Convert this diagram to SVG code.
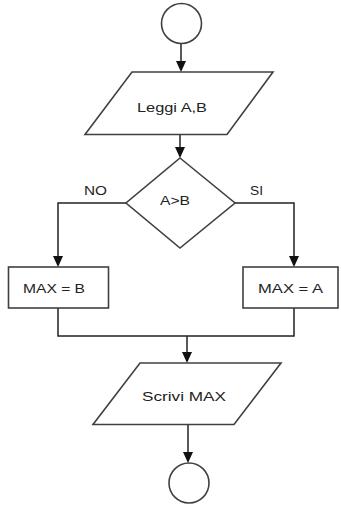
<svg xmlns="http://www.w3.org/2000/svg" width="341" height="508" viewBox="0 0 341 508">
<defs>
<marker id="arr" markerUnits="userSpaceOnUse" markerWidth="10" markerHeight="11" viewBox="0 0 10 11" refX="5" refY="11" orient="auto-start-reverse">
<path d="M0,0 L10,0 L5,11 Z" fill="#111"/>
</marker>
<style>
.shape{fill:#fff;stroke:#404040;stroke-width:1.6}
.line{fill:none;stroke:#222;stroke-width:1.5}
.arrow{fill:none;stroke:#222;stroke-width:1.5}
.t{font-family:"Liberation Sans",Arial,sans-serif;font-size:12.5px;fill:#222;text-anchor:start}
</style>
</defs>
<rect width="341" height="508" fill="#fff"/>
<g id="connectors">
<line class="line" x1="181" y1="44" x2="181" y2="62"/>
<path d="M176,61 L186,61 L181,72 Z" fill="#111"/>
<line class="line" x1="180" y1="135" x2="180" y2="148"/>
<path d="M175,147 L185,147 L180,158 Z" fill="#111"/>
<polyline class="line" points="126,203 58,203 58,257"/>
<path d="M53,256 L63,256 L58,267 Z" fill="#111"/>
<polyline class="line" points="235,203 294,203 294,257"/>
<path d="M289,256 L299,256 L294,267 Z" fill="#111"/>
<polyline class="line" points="58,308 58,336 294,336 294,308"/>
<line class="line" x1="187" y1="336" x2="187" y2="353"/>
<path d="M182,352 L192,352 L187,363 Z" fill="#111"/>
<line class="line" x1="188" y1="424" x2="188" y2="453"/>
<path d="M183,452 L193,452 L188,463 Z" fill="#111"/>
</g>
<g id="start">
<circle class="shape" cx="181.5" cy="23.5" r="20"/>
</g>
<g id="leggi">
<polygon class="shape" points="132,72 273,72 227,134.5 85,134.5"/>
<text class="t" x="137" y="112" textLength="70" lengthAdjust="spacingAndGlyphs">Leggi A,B</text>
</g>
<g id="decision">
<polygon class="shape" points="180,158 235,203 180,248 126,203"/>
<text class="t" x="160" y="205" textLength="30" lengthAdjust="spacingAndGlyphs">A&gt;B</text>
</g>
<g id="label-no">
<text class="t" x="84" y="195" textLength="23" lengthAdjust="spacingAndGlyphs">NO</text>
</g>
<g id="label-si">
<text class="t" x="250" y="195" textLength="13" lengthAdjust="spacingAndGlyphs">SI</text>
</g>
<g id="max-b">
<rect class="shape" x="8.5" y="267" width="100" height="41"/>
<text class="t" x="23" y="293" textLength="62" lengthAdjust="spacingAndGlyphs">MAX = B</text>
</g>
<g id="max-a">
<rect class="shape" x="243" y="267" width="95" height="41"/>
<text class="t" x="258" y="293" textLength="65" lengthAdjust="spacingAndGlyphs">MAX = A</text>
</g>
<g id="scrivi">
<polygon class="shape" points="140,363 281,363 234,424.5 93,424.5"/>
<text class="t" x="142" y="401" textLength="84" lengthAdjust="spacingAndGlyphs">Scrivi MAX</text>
</g>
<g id="end">
<circle class="shape" cx="189" cy="483" r="20"/>
</g>
</svg>
